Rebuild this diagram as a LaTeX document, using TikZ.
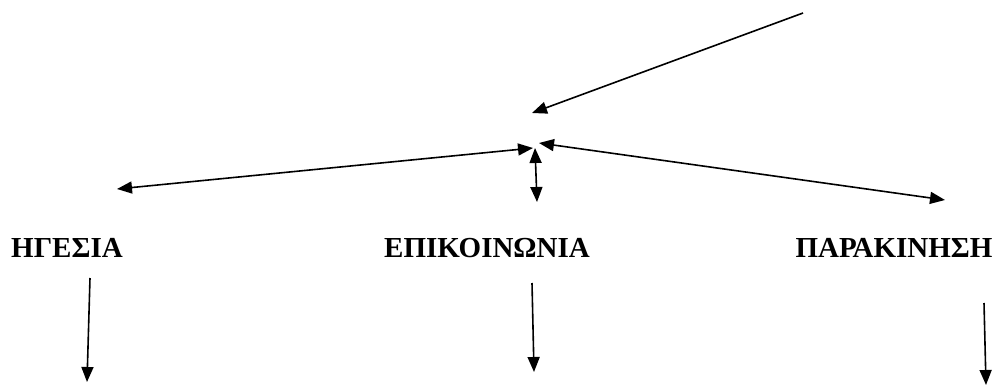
\documentclass[tikz,border=0pt]{standalone}
\usepackage{fontspec}
\setmainfont{Liberation Serif}
\usetikzlibrary{arrows.meta}
\begin{document}
\begin{tikzpicture}[x=1pt,y=-1pt,
  conn/.style={line width=1.6pt,-{Triangle[length=15pt,width=12pt]}},
  dconn/.style={line width=1.6pt,{Triangle[length=15pt,width=12pt]}-{Triangle[length=15pt,width=12pt]}},
  lbl/.style={font=\fontsize{29}{33}\selectfont\bfseries,anchor=base,inner sep=0pt}]
\useasboundingbox (0,0) rectangle (998,385);
% labels
\node[lbl] (hg) at (67,257) {ΗΓΕΣΙΑ};
\node[lbl] (ep) at (487,257) {ΕΠΙΚΟΙΝΩΝΙΑ};
\node[lbl] (pa) at (894,257) {ΠΑΡΑΚΙΝΗΣΗ};
% arrow end points
\coordinate (top) at (803,13);
\coordinate (hub) at (532,113);
\coordinate (hl) at (533,148);
\coordinate (hv) at (535,148);
\coordinate (hr) at (539,143);
\coordinate (lt) at (117,189);
\coordinate (vb) at (537,202);
\coordinate (rt) at (945,200);
\coordinate (a1) at (90,278);
\coordinate (a1e) at (87,382);
\coordinate (a2) at (532,283);
\coordinate (a2e) at (534,372);
\coordinate (a3) at (984,303);
\coordinate (a3e) at (986,385);
% connectors
\draw[conn] (top) -- (hub);
\draw[dconn] (hl) -- (lt);
\draw[dconn] (hv) -- (vb);
\draw[dconn] (hr) -- (rt);
\draw[conn] (a1) -- (a1e);
\draw[conn] (a2) -- (a2e);
\draw[conn] (a3) -- (a3e);
\end{tikzpicture}
\end{document}
